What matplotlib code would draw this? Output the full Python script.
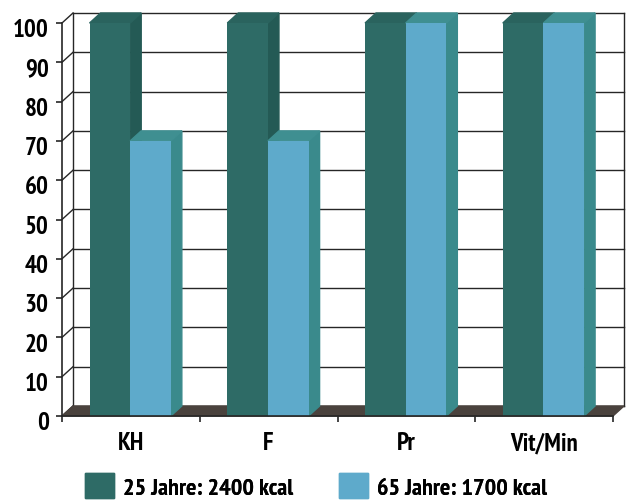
import matplotlib
matplotlib.use("Agg")
from matplotlib import pyplot as plt
from matplotlib.patches import Patch
from matplotlib.transforms import offset_copy

categories = ["KH", "F", "Pr", "Vit/Min"]
series_names = ["25 Jahre: 2400 kcal", "65 Jahre: 1700 kcal"]
young = [100, 100, 100, 100]
old = [70, 70, 100, 100]
yticks = list(range(0, 101, 10))

plt.rcParams["font.family"] = ["PT Sans Narrow", "Fira Sans Condensed", "Roboto Condensed",
                               "Archivo Narrow", "Liberation Sans Narrow", "DejaVu Sans"]
plt.rcParams["font.weight"] = 800

# face colours: front, side, top
dark = ("#2e6b66", "#245a55", "#2a635e")
light = ("#5eaacb", "#3a8a8c", "#3f8f91")
floor_col = "#4a423d"
line_col = "#262626"

fig = plt.figure(figsize=(6.29, 5.02), dpi=100)
ax = fig.add_axes([62 / 629, 85 / 502, 551 / 629, 393 / 502])
ax.set_xlim(-0.5, 3.5)
ax.set_ylim(0, 100)

# depth of the fake 3d look, in data units
dx = 0.08
dy = 2.55
x0, x1 = -0.5, 3.5

# back wall grid and left wall lines
for v in yticks:
    ax.plot([x0 + dx, x1 + dx], [v + dy, v + dy], color=line_col, lw=1, zorder=1, clip_on=False)
    ax.plot([x0, x0 + dx], [v, v + dy], color=line_col, lw=1, zorder=1, clip_on=False)
ax.plot([x0 + dx, x0 + dx], [dy, 100 + dy], color=line_col, lw=1, zorder=1, clip_on=False)
ax.plot([x1 + dx, x1 + dx], [dy, 100 + dy], color=line_col, lw=1, zorder=1, clip_on=False)

# floor
ax.fill([x0, x1, x1 + dx, x0 + dx], [0, 0, dy, dy], color=floor_col, zorder=2, clip_on=False)


def bar3d(left, width, h, cols):
    right = left + width
    ax.fill([right, right + dx, right + dx, right], [0, dy, h + dy, h],
            color=cols[1], zorder=3, clip_on=False)
    ax.fill([left, right, right + dx, left + dx], [h, h, h + dy, h + dy],
            color=cols[2], zorder=3, clip_on=False)
    ax.bar(left, h, width, align="edge", color=cols[0], zorder=3, clip_on=False)


w = 0.295
for i in range(len(categories)):
    bar3d(i - 0.30, w, young[i], dark)
    bar3d(i - 0.005, w, old[i], light)

for side in ["top", "right"]:
    ax.spines[side].set_visible(False)
for side in ["left", "bottom"]:
    ax.spines[side].set_color(line_col)
    ax.spines[side].set_linewidth(1.2)
    ax.spines[side].set_zorder(4)

ax.set_yticks(yticks)
ax.tick_params(axis="y", direction="out", length=4.5, width=1.2, color=line_col,
               labelsize=18, pad=5)
for lab in ax.get_yticklabels():
    lab.set_transform(offset_copy(lab.get_transform(), fig=fig, y=-3, units="points"))

ax.set_xticks(range(len(categories)))
ax.set_xticklabels(categories)
ax.set_xticks([x0 + k for k in range(5)], minor=True)
ax.tick_params(axis="x", which="major", length=0, labelsize=18, pad=11)
ax.tick_params(axis="x", which="minor", direction="out", length=4.5, width=1.2, color=line_col)

# two legend entries, placed one by one
handles = [Patch(color=dark[0]), Patch(color=light[0])]
for k, xpos in enumerate([85, 339]):
    leg = fig.legend([handles[k]], [series_names[k]], loc="lower left",
                     bbox_to_anchor=(xpos / 629, 2 / 502), frameon=False, fontsize=17.5,
                     handlelength=1.18, handleheight=1.18, handletextpad=0.4,
                     borderpad=0, borderaxespad=0)
    fig.add_artist(leg)

fig.savefig("out.png", dpi=100)
